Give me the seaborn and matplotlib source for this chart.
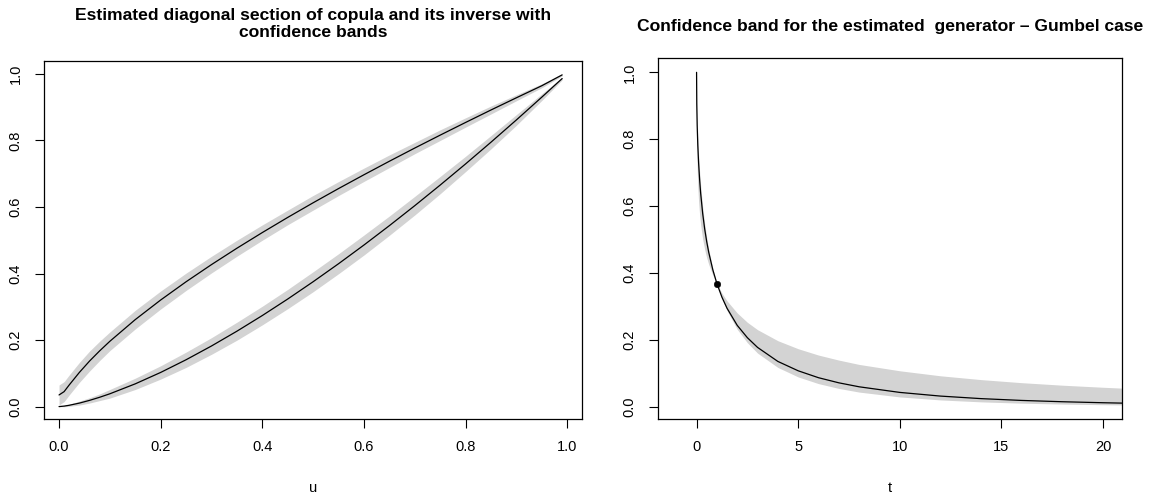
import numpy as np
import pandas as pd
import matplotlib
matplotlib.use("Agg")
import matplotlib.pyplot as plt
import seaborn as sns

# left panel: diagonal section and its inverse
u = [0, 0.01, 0.02, 0.04, 0.06, 0.08, 0.1, 0.15, 0.2, 0.25, 0.3, 0.35, 0.4,
     0.45, 0.5, 0.55, 0.6, 0.65, 0.7, 0.75, 0.8, 0.85, 0.9, 0.95, 0.99]
diag = [0, 0.0015, 0.004, 0.0105, 0.0187, 0.0281, 0.0385, 0.0684, 0.1027,
        0.1408, 0.1822, 0.2266, 0.2737, 0.3233, 0.3753, 0.4294, 0.4856,
        0.5438, 0.6039, 0.6658, 0.7294, 0.7947, 0.8616, 0.9301, 0.9859]
diag_inv = [0.035, 0.045, 0.065, 0.1027, 0.1368, 0.1676, 0.1963, 0.2615,
            0.3204, 0.3752, 0.4268, 0.476, 0.5231, 0.5686, 0.6126, 0.6553,
            0.6968, 0.7374, 0.7771, 0.8159, 0.854, 0.8915, 0.9282, 0.9644,
            0.997]
hw_inv = [0.03, 0.03, 0.03, 0.03, 0.03, 0.029, 0.028, 0.028, 0.027, 0.026,
          0.025, 0.024, 0.023, 0.022, 0.022, 0.021, 0.02, 0.019, 0.017, 0.016,
          0.014, 0.012, 0.009, 0.006, 0.003]
hw_diag = [0, 0.002, 0.003, 0.006, 0.008, 0.01, 0.013, 0.017, 0.02, 0.023,
           0.025, 0.027, 0.028, 0.029, 0.03, 0.03, 0.03, 0.029, 0.028, 0.026,
           0.023, 0.02, 0.016, 0.01, 0.004]

# right panel: estimated generator with its band
t = [0, 0.01, 0.03, 0.06, 0.1, 0.15, 0.2, 0.3, 0.4, 0.5, 0.6, 0.8, 1.0,
     1.25, 1.5, 2, 2.5, 3, 4, 5, 6, 7, 8, 10, 12, 14, 16, 18, 20, 21]
gen = [1, 0.905, 0.841, 0.783, 0.729, 0.679, 0.639, 0.578, 0.531, 0.493,
       0.461, 0.409, 0.368, 0.327, 0.294, 0.243, 0.206, 0.177, 0.135, 0.107,
       0.0863, 0.071, 0.0591, 0.0423, 0.0313, 0.0237, 0.0183, 0.0144,
       0.0114, 0.0102]
gen_lo = [1, 0.795, 0.717, 0.659, 0.613, 0.574, 0.544, 0.501, 0.47, 0.445,
          0.425, 0.393, 0.368, 0.323, 0.287, 0.231, 0.191, 0.16, 0.117,
          0.0886, 0.0686, 0.0542, 0.0433, 0.0288, 0.0198, 0.014, 0.0101,
          0.0074, 0.0055, 0.0048]
gen_hi = [1, 0.924, 0.865, 0.808, 0.754, 0.703, 0.662, 0.597, 0.547, 0.505,
          0.47, 0.413, 0.368, 0.339, 0.316, 0.28, 0.252, 0.23, 0.197, 0.173,
          0.154, 0.139, 0.126, 0.107, 0.092, 0.0806, 0.0714, 0.0639, 0.0577,
          0.0549]
pt_t, pt_y = [1.0], [0.368]

sns.set_style("ticks")
plt.rcParams['font.family'] = ['Liberation Sans', 'DejaVu Sans']
plt.rcParams['axes.linewidth'] = 0.9
plt.rcParams['text.color'] = 'black'
plt.rcParams['axes.labelcolor'] = 'black'

left = pd.DataFrame({"u": u, "diag": diag, "inv": diag_inv})
left["inv_lo"] = left["inv"] - np.array(hw_inv)
left["inv_hi"] = left["inv"] + np.array(hw_inv)
left["diag_lo"] = left["diag"] - np.array(hw_diag)
left["diag_hi"] = left["diag"] + np.array(hw_diag)
right = pd.DataFrame({"t": t, "gen": gen, "lo": gen_lo, "hi": gen_hi})

fig = plt.figure(figsize=(11.59, 4.94), dpi=100)
ax1 = fig.add_axes([0.038, 0.152, 0.4642, 0.7247])
ax2 = fig.add_axes([0.5677, 0.152, 0.4006, 0.730])

band = "#d3d3d3"
ax1.fill_between(left["u"], left["inv_lo"], left["inv_hi"], color=band, lw=0)
ax1.fill_between(left["u"], left["diag_lo"], left["diag_hi"], color=band, lw=0)
sns.lineplot(data=left, x="u", y="inv", ax=ax1, color="black", lw=0.9)
sns.lineplot(data=left, x="u", y="diag", ax=ax1, color="black", lw=0.9)
ax1.set_xlim(-0.0295, 1.0292)
ax1.set_ylim(-0.037, 1.039)
ax1.set_xticks([0, 0.2, 0.4, 0.6, 0.8, 1.0])
ax1.set_xticklabels(["0.0", "0.2", "0.4", "0.6", "0.8", "1.0"])
ax1.set_yticks([0, 0.2, 0.4, 0.6, 0.8, 1.0])
ax1.set_yticklabels(["0.0", "0.2", "0.4", "0.6", "0.8", "1.0"])
ax1.set_xlabel("u")
ax1.set_ylabel("")
ax1.set_title("Estimated diagonal section of copula and its inverse with\nconfidence bands",
              fontsize=12.6, fontweight="bold", pad=17, color="black")

ax2.fill_between(right["t"], right["lo"], right["hi"], color=band, lw=0)
sns.lineplot(data=right, x="t", y="gen", ax=ax2, color="black", lw=0.9)
sns.scatterplot(x=pt_t, y=pt_y, ax=ax2, color="black", s=22, edgecolor="black")
ax2.set_xlim(-1.9, 20.95)
ax2.set_ylim(-0.037, 1.042)
ax2.set_xticks([0, 5, 10, 15, 20])
ax2.set_yticks([0, 0.2, 0.4, 0.6, 0.8, 1.0])
ax2.set_yticklabels(["0.0", "0.2", "0.4", "0.6", "0.8", "1.0"])
ax2.set_xlabel("t")
ax2.set_ylabel("")
ax2.set_title("Confidence band for the estimated  generator \u2013 Gumbel case",
              fontsize=12.6, fontweight="bold", pad=20, color="black")

for ax in (ax1, ax2):
    for s in ax.spines.values():
        s.set_visible(True)
        s.set_color("black")
    ax.tick_params(direction="out", length=6.5, width=0.8, colors="black",
                   labelsize=10.5, pad=9)
    ax.xaxis.label.set_size(10.5)
    ax.xaxis.labelpad = 19
    plt.setp(ax.get_yticklabels(), rotation=90, va="center")

fig.savefig("out.png", dpi=100)
